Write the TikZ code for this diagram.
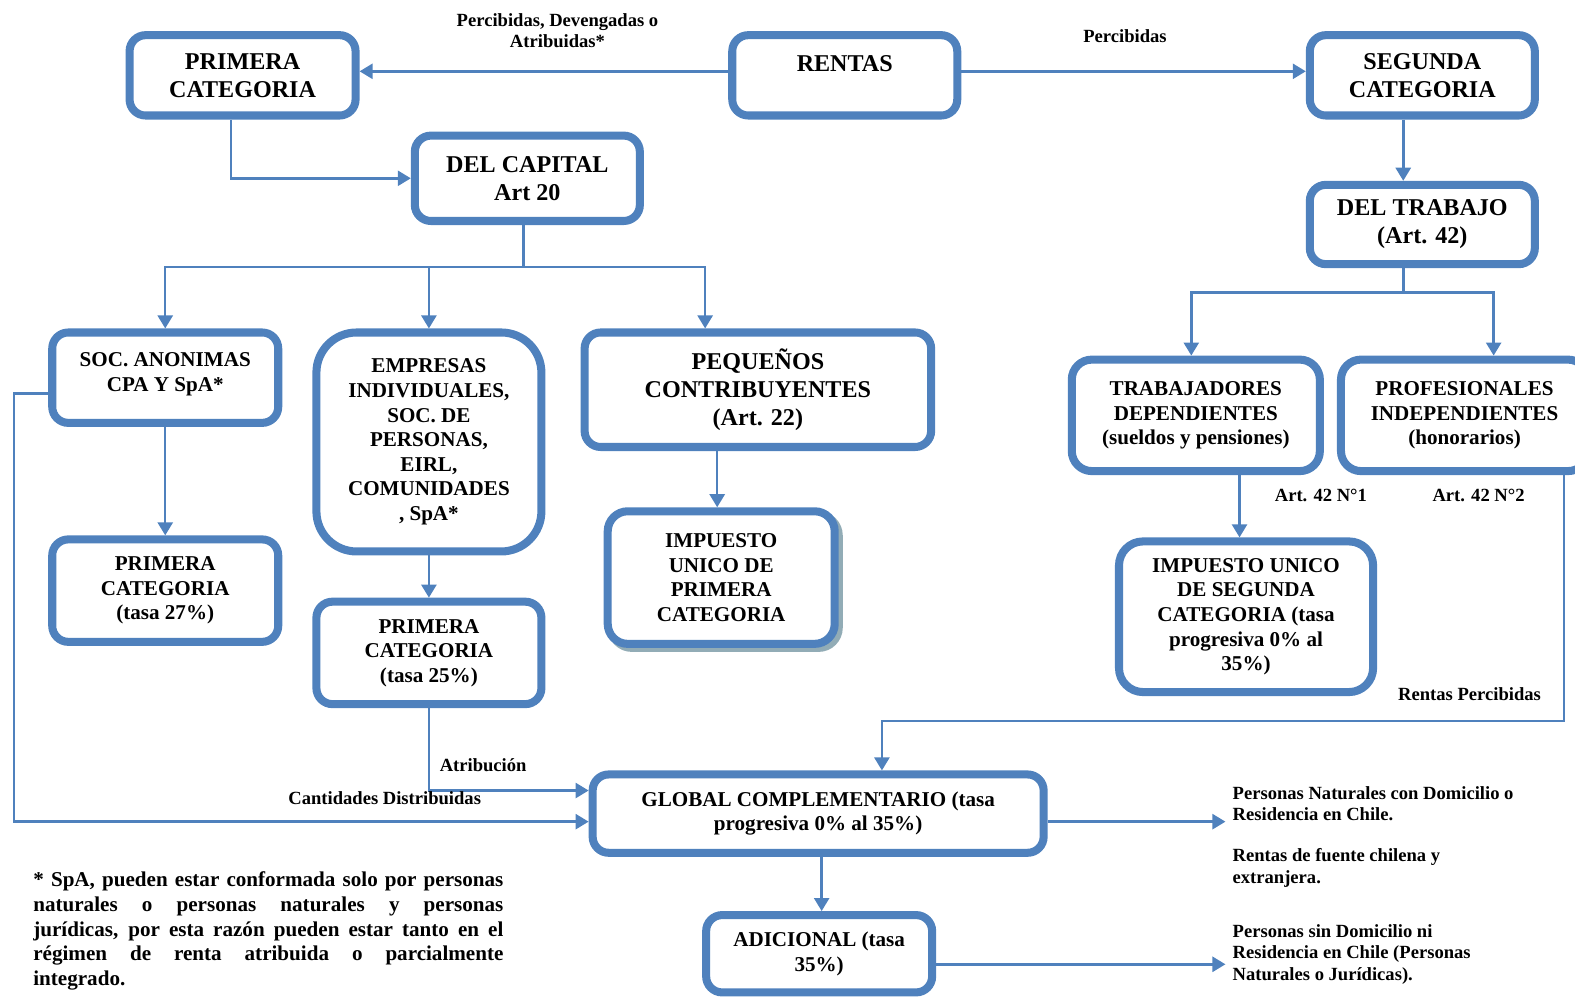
\documentclass[tikz,border=0pt]{standalone}
\usepackage{fontspec}
\setmainfont{Liberation Serif}
\usepackage{tikz}
\usetikzlibrary{arrows.meta,shadows}

\definecolor{azulcaja}{RGB}{79,129,189}
\definecolor{grissombra}{RGB}{146,172,182}

\tikzset{
  caja/.style={draw=azulcaja, line width=8pt, rounded corners=16pt, fill=white, align=center, inner sep=0pt, font=\bfseries\fontsize{21}{24.5}\selectfont},
  cajagrande/.style={caja, font=\bfseries\fontsize{24}{28}\selectfont},
  flecha/.style={draw=azulcaja, line width=2.5pt, -{Triangle[length=13pt,width=15pt]}},
  etiqueta/.style={inner sep=0pt, align=center, font=\bfseries\fontsize{18.5}{21.5}\selectfont},
}

\begin{document}
\begin{tikzpicture}[x=1pt,y=-1pt]
\useasboundingbox (0,0) rectangle (1568,993);

% Boxes, first row
\node[cajagrande, minimum width=225pt, minimum height=80pt] (prim) at (241.5,75) {PRIMERA\\CATEGORIA};
\node[cajagrande, minimum width=224pt, minimum height=80pt, text height=16pt, text depth=24pt] (rentas) at (841,75) {RENTAS};
\node[cajagrande, minimum width=224pt, minimum height=80pt] (segunda) at (1416,75) {SEGUNDA\\CATEGORIA};

% Boxes, second row
\node[cajagrande, minimum width=224pt, minimum height=85pt] (capital) at (525,177.5) {DEL CAPITAL\\Art 20};
\node[cajagrande, minimum width=224pt, minimum height=79pt] (trabajo) at (1416,223.5) {DEL TRABAJO\\(Art. 42)};

% Boxes, third row
\node[caja, minimum width=225pt, minimum height=90pt, text height=40pt, text depth=13pt] (soc) at (164.5,376) {SOC. ANONIMAS\\CPA Y SpA*};
\node[caja, rounded corners=40pt, minimum width=224pt, minimum height=218pt] (empresas) at (427,440) {EMPRESAS\\INDIVIDUALES,\\SOC. DE\\PERSONAS,\\EIRL,\\COMUNIDADES\\, SpA*};
\node[cajagrande, minimum width=345pt, minimum height=114pt] (pequenos) at (754.5,388) {PEQUEÑOS\\CONTRIBUYENTES\\(Art. 22)};
\node[caja, rounded corners=20pt, minimum width=247pt, minimum height=111pt] (trabdep) at (1190.5,413.5) {TRABAJADORES\\DEPENDIENTES\\(sueldos y pensiones)};
\node[caja, rounded corners=20pt, minimum width=246pt, minimum height=111pt] (profind) at (1458,413.5) {PROFESIONALES\\INDEPENDIENTES\\(honorarios)};

% Boxes, fourth row
\node[caja, minimum width=225pt, minimum height=102pt] (prim27) at (164.5,588) {PRIMERA\\CATEGORIA\\(tasa 27\%)};
\node[caja, minimum width=224pt, minimum height=102pt] (prim25) at (427,650) {PRIMERA\\CATEGORIA\\(tasa 25\%)};
\node[caja, rounded corners=20pt, minimum width=226pt, minimum height=132pt,
  copy shadow={shadow xshift=4pt, shadow yshift=-4pt, draw=grissombra, fill=white, line width=8pt}] (unico1) at (718,575) {IMPUESTO\\UNICO DE\\PRIMERA\\CATEGORIA};
\node[caja, rounded corners=24pt, minimum width=253pt, minimum height=150pt] (unico2) at (1240.5,614) {IMPUESTO UNICO\\DE SEGUNDA\\CATEGORIA (tasa\\progresiva 0\% al\\35\%)};

% Boxes, bottom
\node[caja, minimum width=449pt, minimum height=78pt] (global) at (814.5,810) {GLOBAL COMPLEMENTARIO (tasa\\progresiva 0\% al 35\%)};
\node[caja, minimum width=225pt, minimum height=77pt] (adicional) at (815.5,949.5) {ADICIONAL (tasa\\35\%)};

% Free ends on the right
\coordinate (finglobal) at (1220,818);
\coordinate (finadicional) at (1220,960);

% Arrows
\draw[flecha] ([yshift=4pt]rentas.west) -- ([yshift=4pt]prim.east);
\draw[flecha] ([yshift=4pt]rentas.east) -- ([yshift=4pt]segunda.west);
\draw[flecha] ([xshift=-11.5pt]prim.south) |- (capital.west);
\draw[flecha] ([xshift=-4pt]capital.south) -- ++(0,42) -| (soc.north);
\draw[flecha] ([xshift=-4pt]capital.south) -- ++(0,42) -| (empresas.north);
\draw[flecha] ([xshift=-4pt]capital.south) -- ++(0,42) -| ([xshift=-52.5pt]pequenos.north);
\draw[flecha] ([xshift=-19pt]segunda.south) -- ([xshift=-19pt]trabajo.north);
\draw[flecha] ([xshift=-19pt]trabajo.south) -- ++(0,24) -| ([xshift=-4.5pt]trabdep.north);
\draw[flecha] ([xshift=-19pt]trabajo.south) -- ++(0,24) -| ([xshift=29pt]profind.north);
\draw[flecha] (soc.south) -- (prim27.north);
\draw[flecha] (empresas.south) -- (prim25.north);
\draw[flecha] ([xshift=-40.5pt]pequenos.south) -- ([xshift=-4pt]unico1.north);
\draw[flecha] ([xshift=43.5pt]trabdep.south) -- ([xshift=-6.5pt]unico2.north);
\draw[flecha] ([xshift=99pt]profind.south) -- ++(0,245) -| ([xshift=63.5pt]global.north);
\draw[flecha] ([yshift=-16pt]soc.west) -- ++(-34,0) |- ([yshift=-8pt]global.west);
\draw[flecha] (prim25.south) |- ([yshift=23pt]global.west);
\draw[flecha] ([xshift=3.5pt]global.south) -- ([xshift=2.5pt]adicional.north);
\draw[flecha] ([yshift=-8pt]global.east) -- (finglobal);
\draw[flecha] ([yshift=-10.5pt]adicional.east) -- (finadicional);

% Text Nodes on the arrows
\node[etiqueta] (lblpda) at (555,30.5) {Percibidas, Devengadas o\\Atribuidas*};
\node[etiqueta] (lblperc) at (1120,36) {Percibidas};
\node[etiqueta] (lblart1) at (1315,493) {Art. 42 N°1};
\node[etiqueta] (lblart2) at (1472,493) {Art. 42 N°2};
\node[etiqueta] (lblrp) at (1463,691) {Rentas Percibidas};
\node[etiqueta] (lblatr) at (481,762) {Atribución};
\node[etiqueta] (lblcd) at (383,795) {Cantidades Distribuidas};

% Text Nodes on the right
\node[etiqueta, anchor=west, align=left] (pnat) at (1227,800) {Personas Naturales con Domicilio o\\Residencia en Chile.};
\node[etiqueta, anchor=west, align=left] (rfuente) at (1227,864) {Rentas de fuente chilena y\\extranjera.};
\node[etiqueta, anchor=west, align=left] (psin) at (1227,950) {Personas sin Domicilio ni\\Residencia en Chile (Personas\\Naturales o Jurídicas).};

% Footnote
\node[anchor=north west, inner sep=0pt, text width=468pt, align=justify, font=\bfseries\fontsize{21}{24.5}\selectfont] (nota) at (33,868)
  {\hbadness=10000 * SpA, pueden estar conformada solo por personas\linebreak naturales o personas naturales y personas\linebreak jurídicas, por esta razón pueden estar tanto en el\linebreak régimen de renta atribuida o parcialmente\linebreak integrado.};

\end{tikzpicture}
\end{document}
